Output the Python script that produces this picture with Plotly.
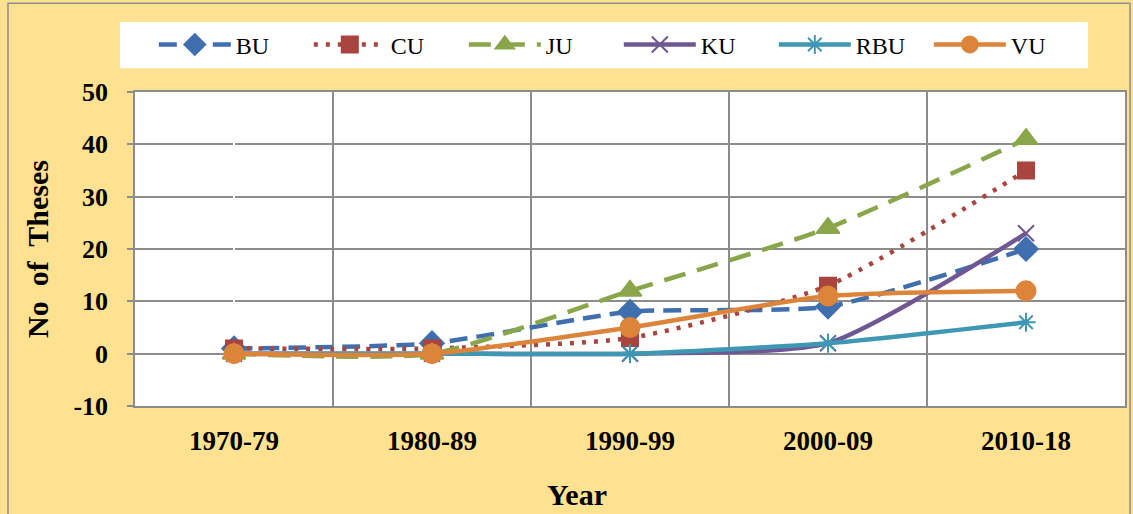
import plotly.graph_objects as go

categories = ["1970-79", "1980-89", "1990-99", "2000-09", "2010-18"]
BU = [1, 2, 8, 9, 20]
CU = [1, 1, 3, 13, 35]
JU = [0, 0, 12, 24, 41]
KU = [0, 0, 0, 2, 23]
RBU = [0, 0, 0, 2, 6]
VU = [0, 0, 5, 11, 12]
y_ticks = [-10, 0, 10, 20, 30, 40, 50]
y_ticktext = ["-10", "0", "10", "20", "30", "40", "50"]

series = [
    ("BU", BU, "#3F6FAE", "18px,9px", "diamond", 18),
    ("CU", CU, "#A9443F", "4px,8px", "square", 16),
    ("JU", JU, "#8AA64B", "22px,12px", "triangle-up", 20),
    ("KU", KU, "#6F5794", "solid", "x-thin-open", 16),
    ("RBU", RBU, "#3F98B3", "solid", "asterisk-open", 16),
    ("VU", VU, "#DD843B", "solid", "circle", 19),
]

xs = list(range(len(categories)))
fig = go.Figure()
for name, vals, color, dash, sym, size in series:
    fig.add_trace(go.Scatter(
        x=xs, y=vals, name=name, mode="lines+markers",
        line=dict(color=color, width=4.5, dash=dash, shape="spline", smoothing=0.6),
        marker=dict(symbol=sym, size=size, color=color,
                    line=dict(color=color, width=2)),
    ))

font_fam = "Liberation Serif"
fig.update_layout(
    width=1133, height=514,
    margin=dict(l=135, r=8, t=92, b=108, autoexpand=False),
    paper_bgcolor="#FFE291",
    plot_bgcolor="white",
    font=dict(family=font_fam, color="black"),
    showlegend=True,
    legend=dict(orientation="h", x=0.019, y=1.15, xanchor="left", yanchor="middle",
                bgcolor="rgba(0,0,0,0)", font=dict(size=24, family=font_fam),
                entrywidth=68, entrywidthmode="pixels", itemwidth=72),
    shapes=[
        dict(type="rect", xref="paper", yref="paper", x0=-0.1283, x1=1.0051, y0=-0.37, y1=1.283,
             line=dict(color="#8C8C8C", width=1.5), fillcolor="rgba(0,0,0,0)", layer="below"),
        dict(type="rect", xref="paper", yref="paper", x0=-0.0152, x1=0.9626, y0=1.076, y1=1.223,
             line=dict(width=0), fillcolor="white", layer="below"),
    ],
    annotations=[
        dict(text="<b>Year</b>", xref="paper", yref="paper", x=0.4465, y=-0.283,
             xanchor="center", yanchor="middle", showarrow=False,
             font=dict(size=30, family=font_fam, color="black")),
    ],
)
fig.update_xaxes(
    range=[-0.5, 4.5], tickvals=xs, ticktext=categories,
    showgrid=False, ticks="",
    tickfont=dict(size=27, family=font_fam, weight="bold"),
    ticklabelstandoff=10,
    showline=True, linecolor="#8C8C8C", linewidth=1.5, mirror=True,
    minor=dict(tickvals=[0.5, 1.5, 2.5, 3.5], showgrid=True, gridcolor="#8C8C8C", gridwidth=1.5),
    fixedrange=True,
)
fig.update_yaxes(
    range=[-10, 50], tickvals=y_ticks, ticktext=y_ticktext,
    showgrid=True, gridcolor="#8C8C8C", gridwidth=1.5, zeroline=False,
    ticks="outside", ticklen=6, tickcolor="#8C8C8C", tickwidth=1.5,
    tickfont=dict(size=26, family=font_fam, weight="bold"),
    ticklabelstandoff=14,
    showline=True, linecolor="#8C8C8C", linewidth=1.5, mirror=True,
    title=dict(text="<b>No  of  Theses</b>", font=dict(size=30, family=font_fam), standoff=16),
    fixedrange=True,
)

fig.write_html("out.html", config={"displayModeBar": False},
               post_script="document.body.style.margin='0';document.body.style.overflow='hidden';")
